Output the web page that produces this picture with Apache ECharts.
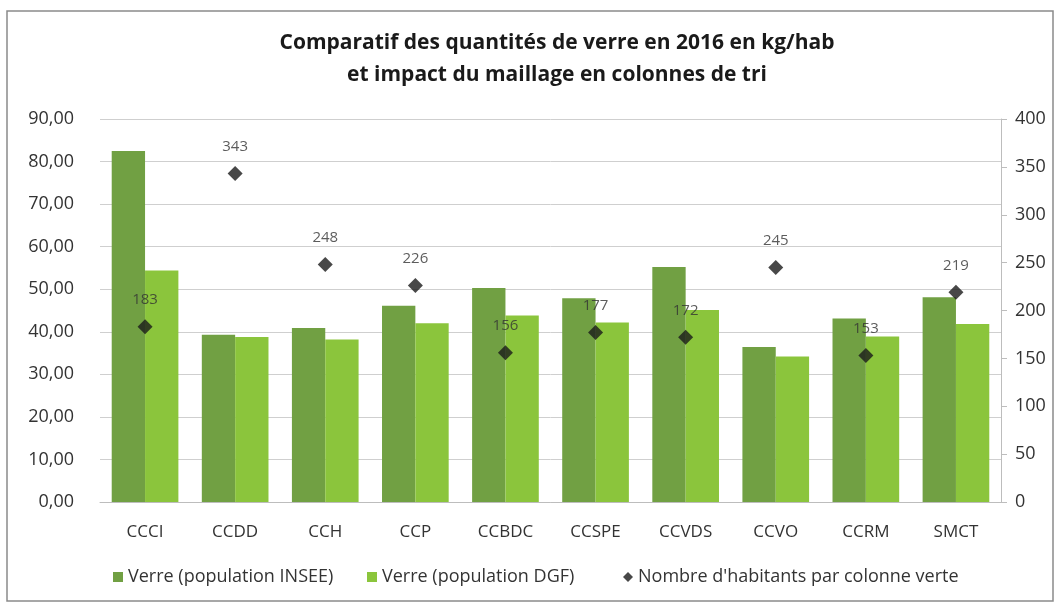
<!DOCTYPE html>
<html>
<head>
<meta charset="utf-8">
<script src="https://cdn.jsdelivr.net/npm/echarts@6/dist/echarts.min.js"></script>
<style>
  html, body { margin: 0; padding: 0; background: #fff; }
  #chart { width: 1059px; height: 608px; }
</style>
</head>
<body>
<div id="chart"></div>
<script>
// Collectivités compared
const categories = ['CCCI', 'CCDD', 'CCH', 'CCP', 'CCBDC', 'CCSPE', 'CCVDS', 'CCVO', 'CCRM', 'SMCT'];
// Glass collected in 2016, kg per inhabitant
const verreInsee = [82.5, 39.3, 40.9, 46.1, 50.3, 47.9, 55.2, 36.4, 43.1, 48.1];
const verreDgf = [54.4, 38.8, 38.2, 42.0, 43.8, 42.2, 45.1, 34.2, 38.9, 41.8];
// Inhabitants per glass collection column
const habitantsParColonne = [183, 343, 248, 226, 156, 177, 172, 245, 153, 219];

const seriesNames = ['Verre (population INSEE)', 'Verre (population DGF)', "Nombre d'habitants par colonne verte"];
const titleLines = ['Comparatif des quantités de verre en 2016 en kg/hab', 'et impact du maillage en colonnes de tri'];

const FONT = '"Open Sans", "Noto Sans", sans-serif';
const chart = echarts.init(document.getElementById('chart'), null, { renderer: 'canvas' });

// one legend block per series so each entry sits at its own x position
const legendLefts = [108, 362, 618];
const legendIcons = ['rect', 'rect', 'diamond'];
const legends = seriesNames.map((name, i) => ({
  left: legendLefts[i],
  bottom: 17,
  itemWidth: 10,
  itemHeight: 10,
  itemGap: 0,
  textStyle: { fontFamily: FONT, fontSize: 18, color: '#333' },
  data: [{ name, icon: legendIcons[i] }]
}));

chart.setOption({
  backgroundColor: '#ffffff',
  animation: false,
  graphic: [{
    type: 'rect',
    shape: { x: 7, y: 11, width: 1046, height: 590 },
    style: { fill: 'none', stroke: '#8a8a8a', lineWidth: 1.5 },
    silent: true
  }],
  title: {
    text: titleLines.join('\n'),
    left: 552,
    top: 22,
    textAlign: 'center',
    textStyle: { fontFamily: FONT, fontSize: 21, fontWeight: 'bold', color: '#1a1a1a', lineHeight: 32 }
  },
  legend: legends,
  grid: { left: 100, right: 58, top: 119, bottom: 106, containLabel: false },
  xAxis: {
    type: 'category',
    data: categories,
    axisLine: { lineStyle: { color: '#bdbdbd' } },
    axisTick: { show: false },
    axisLabel: { fontFamily: FONT, fontSize: 17, color: '#333', margin: 22 }
  },
  yAxis: [{
    type: 'value',
    min: 0, max: 90, interval: 10,
    axisLine: { show: false },
    axisTick: { show: false },
    splitLine: { lineStyle: { color: '#cfcfcf' } },
    axisLabel: {
      fontFamily: FONT, fontSize: 18, color: '#333', margin: 26,
      formatter: v => v.toFixed(2).replace('.', ',')
    }
  }, {
    type: 'value',
    min: 0, max: 400, interval: 50,
    axisLine: { show: true, lineStyle: { color: '#bdbdbd' } },
    axisTick: { show: true, length: 6, lineStyle: { color: '#bdbdbd' } },
    splitLine: { show: false },
    axisLabel: { fontFamily: FONT, fontSize: 18, color: '#333', margin: 14 }
  }],
  series: [{
    name: seriesNames[0],
    type: 'bar',
    data: verreInsee,
    barGap: '0%',
    barCategoryGap: '26%',
    itemStyle: { color: '#71a043' }
  }, {
    name: seriesNames[1],
    type: 'bar',
    data: verreDgf,
    itemStyle: { color: '#8bc53c' }
  }, {
    name: seriesNames[2],
    type: 'scatter',
    yAxisIndex: 1,
    data: habitantsParColonne,
    symbol: 'diamond',
    symbolSize: 15,
    itemStyle: { color: '#1a1a1a' },
    label: {
      show: true,
      position: 'top',
      distance: 12,
      fontFamily: FONT,
      fontSize: 15,
      color: '#333'
    },
    z: 5
  }]
});
</script>
</body>
</html>
